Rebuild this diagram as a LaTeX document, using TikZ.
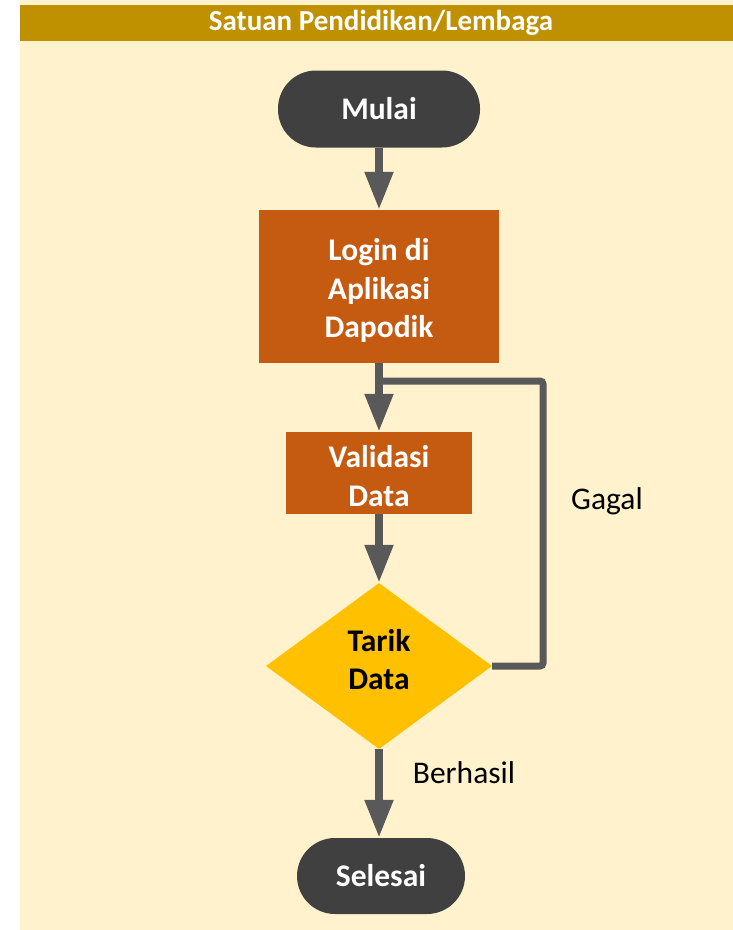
\documentclass[tikz,border=0pt]{standalone}
\usepackage{fontspec}
\setmainfont{Carlito}
\usetikzlibrary{arrows.meta,shapes.geometric}
\definecolor{panelbg}{HTML}{FFF2CC}
\definecolor{headbar}{HTML}{BF9000}
\definecolor{procfill}{HTML}{C55A11}
\definecolor{termfill}{HTML}{404040}
\definecolor{linegrey}{HTML}{595959}
\definecolor{decfill}{HTML}{FFC000}
\tikzset{
  boxtext/.style={font=\fontsize{31.5}{38.5}\selectfont\bfseries, align=center, text=white, inner sep=0pt},
  terminal/.style={boxtext, fill=termfill, rounded corners=38pt, minimum width=202pt, minimum height=77pt},
  process/.style={fill=procfill, inner sep=0pt},
  decision/.style={diamond, fill=decfill, inner sep=0pt, aspect=1.36, minimum width=226pt, minimum height=166pt},
  dectext/.style={font=\fontsize{31.5}{38}\selectfont\bfseries, align=center, text=black, inner sep=0pt},
  flow/.style={draw=linegrey, line width=8pt, -{Triangle[length=38pt,width=27pt]}},
  loopline/.style={draw=linegrey, line width=7pt, rounded corners=3pt},
  edgelabel/.style={font=\fontsize{31.5}{36}\selectfont, text=black, inner sep=0pt}
}
\begin{document}
\begin{tikzpicture}[x=1pt,y=-1pt]
\useasboundingbox (0,0) rectangle (733,930);
% panel and its header
\fill[panelbg] (20,0) rectangle (733,930);
\fill[headbar] (20,5) rectangle (733,41);
\node[font=\fontsize{29}{34}\selectfont\bfseries, text=white] (title) at (381,23) {Satuan Pendidikan/Lembaga};

% flow nodes
\node[terminal] (start) at (379,109) {Mulai};
\node[process, minimum width=240pt, minimum height=153pt,
      label={[boxtext, yshift=-4pt]center:{Login di\\Aplikasi\\Dapodik}}] (login) at (379,286.5) {};
\node[process, minimum width=186pt, minimum height=82pt,
      label={[boxtext, yshift=-3pt]center:{Validasi\\Data}}] (valid) at (379,473) {};
\node[decision, label={[dectext, yshift=6pt]center:{Tarik\\Data}}] (pull) at (379,666) {};
\node[terminal, minimum width=168pt, minimum height=76pt] (finish) at (381,876) {Selesai};

% connectors
\draw[flow] (start.south) -- (login.north);
\draw[flow] (login.south) -- (valid.north);
\draw[flow] (valid.south) -- (pull.north);
\draw[flow] (pull.south) -- (finish.north -| pull.south);

% retry loop back to the login branch
\coordinate (branch) at (379,381);
\coordinate (loopcorner) at (543,381);
\draw[loopline] (pull.east) -| (loopcorner) -- (branch);

% labels
\node[edgelabel] (fail) at (607,501) {Gagal};
\node[edgelabel] (ok) at (464,773) {Berhasil};
\end{tikzpicture}
\end{document}
